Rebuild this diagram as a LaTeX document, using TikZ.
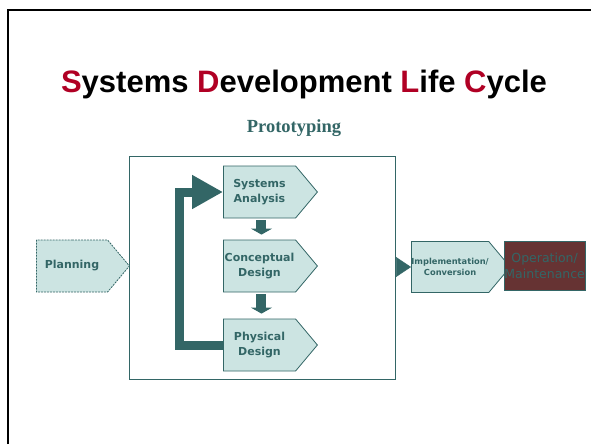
\documentclass[tikz,border=0pt]{standalone}
\usepackage{fontspec}
\setmainfont{Liberation Sans}
\newfontfamily\phasefont{DejaVu Sans}
\newfontfamily\headfont{Liberation Serif}
\usetikzlibrary{shapes.symbols,arrows.meta}
\definecolor{sdlcred}{RGB}{176,0,36}
\definecolor{tealdark}{RGB}{51,102,102}
\definecolor{tealpale}{RGB}{204,228,226}
\definecolor{opbrown}{RGB}{102,51,51}
\tikzstyle{phase}=[signal,signal to=east,signal pointer angle=100,draw=tealdark,line width=0.8pt,fill=tealpale,text=tealdark,align=center,inner sep=0pt,minimum width=94pt,minimum height=52pt,anchor=west,font=\phasefont\bfseries\fontsize{11}{15.5}\selectfont]
\tikzstyle{stepdown}=[draw=tealdark,line width=10pt,-{Triangle[length=6pt,width=21pt]}]

\begin{document}
\begin{tikzpicture}[x=1pt,y=-1pt]
    \useasboundingbox (0,0) rectangle (591,444);
    \draw[line width=2.5pt] (8,444) -- (8,10) -- (591,10);
    \node[anchor=base,font=\bfseries\fontsize{31}{36}\selectfont] (title) at (304,92) {\textcolor{sdlcred}{S}ystems \textcolor{sdlcred}{D}evelopment \textcolor{sdlcred}{L}ife \textcolor{sdlcred}{C}ycle};
    \node[anchor=base,text=tealdark,font=\headfont\bfseries\fontsize{18.5}{22}\selectfont] (proto) at (294,132) {Prototyping};
    \node[draw=tealdark,line width=0.8pt,minimum width=266pt,minimum height=223pt,inner sep=0pt] (loop) at (262,267.5) {};

    \node[phase,dash pattern=on 2pt off 1pt,minimum width=93pt] (plan) at (36,266) {Planning};
    \node[phase] (anal) at (223,192) {Systems\\Analysis};
    \node[phase] (conc) at (223,266) {Conceptual\\Design};
    \node[phase] (phys) at (223,345) {Physical\\Design};
    \node[phase,minimum width=93pt,minimum height=51pt,font=\phasefont\bfseries\fontsize{8.3}{11}\selectfont] (impl) at (411,267) {Implementation/\\Conversion};
    \node[draw=tealdark,line width=0.8pt,fill=opbrown,text=tealdark,minimum width=80pt,minimum height=49pt,inner sep=0pt,align=center,anchor=west,font=\phasefont\fontsize{12.5}{16}\selectfont] (oper) at (504,265.5) {Operation/\\Maintenance};

    \coordinate (back) at (179.5,266);
    \draw[tealdark,line width=9pt,-{Triangle[length=31pt,width=32pt]}] (phys.west) -| (back) |- (anal.west);
    \draw[stepdown] ([xshift=2pt,yshift=-2pt]anal.south) -- ([xshift=2pt,yshift=5pt]conc.north);
    \draw[stepdown] ([xshift=2pt,yshift=-2pt]conc.south) -- ([xshift=2pt,yshift=5pt]phys.north);
    \draw[tealdark,line width=0.5pt,-{Triangle[length=15pt,width=20pt]}] (loop.east |- impl.west) -- (impl.west);
\end{tikzpicture}
\end{document}
